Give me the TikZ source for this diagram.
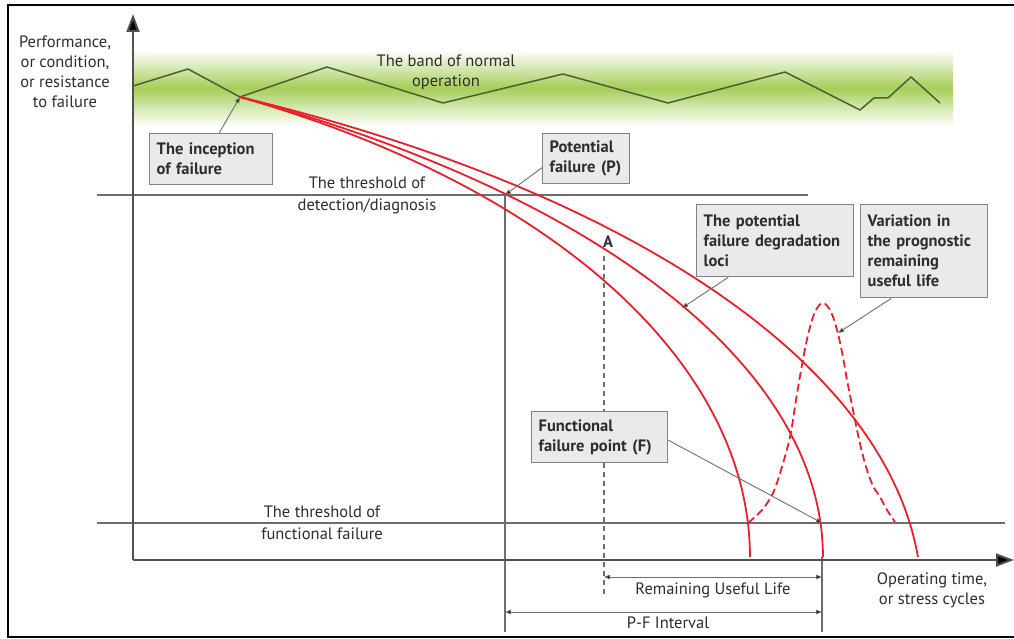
\documentclass[tikz,border=0pt]{standalone}
\usepackage{fontspec}
\setmainfont{PT Sans}
\usetikzlibrary{arrows.meta,calc}
\definecolor{failred}{RGB}{232,32,44}
\definecolor{bandgreen}{RGB}{166,206,88}
\definecolor{zigzag}{RGB}{78,94,52}
\definecolor{axisgray}{RGB}{80,80,80}
\definecolor{thingray}{RGB}{110,110,110}
\definecolor{boxfill}{RGB}{234,234,234}
\definecolor{boxline}{RGB}{130,130,130}
\definecolor{inkgray}{RGB}{45,45,45}
\begin{document}
\begin{tikzpicture}[x=1pt,y=-1pt,
  txt/.style={font=\fontsize{16.5}{20}\selectfont, text=inkgray, align=center, inner sep=0pt},
  callout/.style={draw=boxline, fill=boxfill, line width=1.4pt, anchor=north west,
    font=\bfseries\fontsize{16.5}{20}\selectfont, text=inkgray, align=left,
    inner xsep=7pt, inner ysep=4pt},
  pointer/.style={draw=thingray, line width=0.9pt, -{Triangle[length=6pt,width=4.5pt,fill=black]}},
  dimline/.style={draw=thingray, line width=0.9pt,
    {Triangle[length=6pt,width=4.5pt,fill=black]}-{Triangle[length=6pt,width=4.5pt,fill=black]}},
  guide/.style={draw=thingray, line width=1.1pt},
  locus/.style={draw=failred, line width=1.8pt},
  axisline/.style={draw=axisgray, line width=2pt, -{Triangle[length=18pt,width=13pt,fill=black]}}
]
\useasboundingbox (0,0) rectangle (1014,639);

% frame
\draw[black, line width=2pt] (1014,5) -- (8,5) -- (8,637) -- (1014,637);

% band of normal operation
\shade[top color=white, bottom color=white, middle color=bandgreen] (133,50) rectangle (953,126);
\draw[zigzag, line width=1.5pt, line join=round]
  (133,86) -- (188,69) -- (240,97) -- (327,67) -- (443,103) -- (563,74) -- (668,103)
  -- (785,72) -- (860,110) -- (874,98) -- (888,98) -- (911,77) -- (940,103);
\node[txt] (bandlbl) at (446,72) {The band of normal\\operation};

% thresholds
\draw[guide] (97,195) -- (808,195);
\draw[guide] (97,523) -- (1005,523);
\node[txt] (detlbl) at (367,195) {The threshold of\\[2pt]detection/diagnosis};
\node[txt] (funlbl) at (322,523) {The threshold of\\[2pt]functional failure};

% vertical markers
\coordinate (P) at (505,195);
\coordinate (F) at (822,523);
\coordinate (Pbot) at (505,632);
\coordinate (Fbot) at (822,632);
\draw[guide] (P) -- (Pbot);
\draw[guide] (822,557) -- (Fbot);
\coordinate (Atop) at (604,256);
\coordinate (Abot) at (604,594);
\draw[thingray, line width=1.2pt, dash pattern=on 5pt off 4pt] (Atop) -- (Abot);
\node[font=\bfseries\fontsize{16.5}{18}\selectfont, text=inkgray] (Alab) at (608,242) {A};

% axes
\coordinate (origin) at (133,560);
\coordinate (ytip) at (133,14);
\coordinate (xtip) at (1014,560);
\draw[axisline] (origin) -- (ytip);
\draw[axisline] (133,560) -- (xtip);

% degradation loci
\coordinate (inc) at (240,97);
\draw[locus] plot[domain=61.04:4.29, samples=80, smooth, variable=\t]
  ({-400+1321.7*cos(\t)},{600-574.9*sin(\t)});
\draw[locus] plot[domain=58.45:0, samples=80, smooth, variable=\t]
  ({-400+1223*cos(\t)},{557-540*sin(\t)});
\draw[locus] plot[domain=62.41:0, samples=80, smooth, variable=\t]
  ({-200+950*cos(\t)},{557-519*sin(\t)});

% spread of the remaining useful life
\draw[failred, line width=1.8pt, dash pattern=on 8pt off 4pt] plot[smooth, tension=0.6] coordinates {
  (748,523) (762,510) (773,493) (781,470) (790,437) (796,400) (802,365) (808,335)
  (815,312) (823,303) (831,312) (837,330) (842,352) (847,380) (852,405) (857,430)
  (862,452) (867,470) (873,486) (880,497) (887,510) (895,522)};

% axis labels
\node[txt] (ylbl) at (65,72) {Performance,\\or condition,\\or resistance\\to failure};
\node[txt] (xlbl) at (932,590) {Operating time,\\or stress cycles};

% callouts
\node[callout, minimum width=123pt, minimum height=51pt, text width=109pt] (incbox) at (149,133) {The inception\\of failure};
\node[callout, minimum width=87pt, minimum height=50pt, text width=73pt] (potbox) at (542,133) {Potential\\failure (P)};
\node[callout, minimum width=157pt, minimum height=72pt, text width=143pt] (degbox) at (696,204) {The potential\\failure degradation\\loci};
\node[callout, minimum width=127pt, minimum height=93pt, text width=113pt] (varbox) at (860,204) {Variation in\\the prognostic\\remaining\\useful life};
\node[callout, minimum width=136pt, minimum height=51pt, text width=122pt] (funbox) at (531,411) {Functional\\failure point (F)};

\coordinate (degtip) at (682,308);
\coordinate (vartip) at (838,333);
\draw[pointer] ([xshift=8pt]incbox.north) -- (inc);
\draw[pointer] ([yshift=-9pt]potbox.west) -- (P);
\draw[pointer] ([xshift=-47pt]degbox.south) -- (degtip);
\draw[pointer] ([xshift=-33pt]varbox.south) -- (vartip);
\draw[pointer] ([yshift=-3pt]funbox.east) -- (F);

% intervals
\coordinate (rulL) at (604,577);
\coordinate (rulR) at (822,577);
\coordinate (pfL) at (505,612);
\coordinate (pfR) at (822,612);
\draw[dimline] (rulL) -- (rulR);
\draw[dimline] (pfL) -- (pfR);
\node[txt] (rullbl) at (713,590) {Remaining Useful Life};
\node[txt] (pflbl) at (668,623) {P-F Interval};
\end{tikzpicture}
\end{document}
